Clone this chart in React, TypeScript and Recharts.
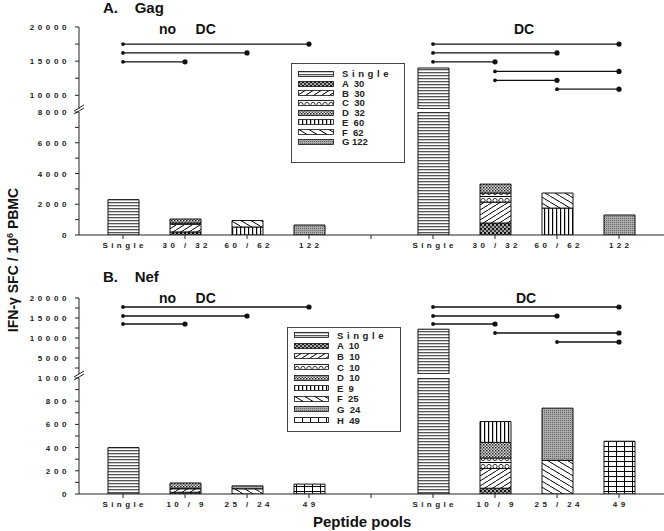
import React from 'react';
import { ComposedChart, Bar, XAxis, YAxis, ReferenceLine, ReferenceDot } from 'recharts';

document.body.style.margin = '0';

// category keys: no DC group, empty gap, DC group
const categories = ['n0', 'n1', 'n2', 'n3', 'gap', 'd0', 'd1', 'd2', 'd3'];
const gagTickLabels = ['Single', '30 / 32', '60 / 62', '122', '', 'Single', '30 / 32', '60 / 62', '122'];
const nefTickLabels = ['Single', '10 / 9', '25 / 24', '49', '', 'Single', '10 / 9', '25 / 24', '49'];

// Gag, IFN-g SFC / 10^6 PBMC
const gagSingle = [2300, null, null, null, null, 14000, null, null, null];
const gagA = [null, 200, null, null, null, null, 780, null, null];
const gagB = [null, 500, null, null, null, null, 1360, null, null];
const gagC = [null, 80, null, null, null, null, 590, null, null];
const gagD = [null, 260, null, null, null, null, 580, null, null];
const gagE = [null, null, 520, null, null, null, null, 1750, null];
const gagF = [null, null, 420, null, null, null, null, 980, null];
const gagG = [null, null, null, 650, null, null, null, null, 1300];

// Nef
const nefSingle = [400, null, null, null, null, 12200, null, null, null];
const nefA = [null, 15, null, null, null, null, 50, null, null];
const nefB = [null, 30, null, null, null, null, 170, null, null];
const nefC = [null, 5, null, null, null, null, 90, null, null];
const nefD = [null, 45, null, null, null, null, 135, null, null];
const nefE = [null, null, null, null, null, null, 180, null, null];
const nefF = [null, null, 45, null, null, null, null, 290, null];
const nefG = [null, null, 25, null, null, null, null, 450, null];
const nefH = [null, null, null, 85, null, null, null, null, 455];

// axis segments
const gagUpperDomain = [8000, 20000];
const gagUpperTicks = [10000, 12500, 15000, 17500, 20000];
const gagUpperLabels = [10000, 15000, 20000];
const gagLowerDomain = [0, 8000];
const gagLowerTicks = [0, 1000, 2000, 3000, 4000, 5000, 6000, 7000, 8000];
const gagLowerLabels = [0, 2000, 4000, 6000, 8000];

const nefUpperDomain = [1000, 20000];
const nefUpperTicks = [2500, 5000, 7500, 10000, 12500, 15000, 17500, 20000];
const nefUpperLabels = [5000, 10000, 15000, 20000];
const nefLowerDomain = [0, 1000];
const nefLowerTicks = [0, 100, 200, 300, 400, 500, 600, 700, 800, 900, 1000];
const nefLowerLabels = [0, 200, 400, 600, 800, 1000];

// significance brackets
const gagBrackets = [
  { from: 'n0', to: 'n3', y: 17500 },
  { from: 'n0', to: 'n2', y: 16200 },
  { from: 'n0', to: 'n1', y: 14900 },
  { from: 'd0', to: 'd3', y: 17500 },
  { from: 'd0', to: 'd2', y: 16200 },
  { from: 'd0', to: 'd1', y: 14900 },
  { from: 'd1', to: 'd3', y: 13500 },
  { from: 'd1', to: 'd2', y: 12200 },
  { from: 'd2', to: 'd3', y: 10900 },
];
const nefBrackets = [
  { from: 'n0', to: 'n3', y: 17750 },
  { from: 'n0', to: 'n2', y: 15500 },
  { from: 'n0', to: 'n1', y: 13500 },
  { from: 'd0', to: 'd3', y: 17750 },
  { from: 'd0', to: 'd2', y: 15500 },
  { from: 'd0', to: 'd1', y: 13500 },
  { from: 'd1', to: 'd3', y: 11250 },
  { from: 'd2', to: 'd3', y: 9000 },
];

const gagSeries = [
  { key: 'A', label: 'A  30', pattern: 'pA', values: gagA },
  { key: 'B', label: 'B  30', pattern: 'pB', values: gagB },
  { key: 'C', label: 'C  30', pattern: 'pC', values: gagC },
  { key: 'D', label: 'D  32', pattern: 'pD', values: gagD },
  { key: 'E', label: 'E  60', pattern: 'pE', values: gagE },
  { key: 'F', label: 'F  62', pattern: 'pF', values: gagF },
  { key: 'G', label: 'G 122', pattern: 'pG', values: gagG },
];
const nefSeries = [
  { key: 'A', label: 'A  10', pattern: 'pA', values: nefA },
  { key: 'B', label: 'B  10', pattern: 'pB', values: nefB },
  { key: 'C', label: 'C  10', pattern: 'pC', values: nefC },
  { key: 'D', label: 'D  10', pattern: 'pD', values: nefD },
  { key: 'E', label: 'E  9', pattern: 'pE', values: nefE },
  { key: 'F', label: 'F  25', pattern: 'pF', values: nefF },
  { key: 'G', label: 'G  24', pattern: 'pG', values: nefG },
  { key: 'H', label: 'H  49', pattern: 'pH', values: nefH },
];

const FONT = 'Arial, "Liberation Sans", sans-serif';
const TICK_SIZE = 4;
const Y_TICK_MARGIN = 5;

const YTick = (props: any) => {
  const { x, y, payload, labels, brk } = props;
  const v = payload.value;
  const axisX = x + TICK_SIZE + Y_TICK_MARGIN;
  return (
    <g>
      {labels.includes(v) && (
        <text x={x} y={y} dy={3} textAnchor="end" fontSize={8} fontWeight="bold" letterSpacing={3.6} fill="#222" fontFamily={FONT}>
          {v}
        </text>
      )}
      {brk === v && (
        <g stroke="#222" strokeWidth={1}>
          <line x1={axisX - 5} y1={y - 1} x2={axisX + 5} y2={y - 7} />
          <line x1={axisX - 5} y1={y + 2} x2={axisX + 5} y2={y - 4} />
        </g>
      )}
    </g>
  );
};

const XTick = (props: any) => {
  const { x, y, payload, labels } = props;
  const label = labels[categories.indexOf(payload.value)];
  return (
    <text x={x} y={y} dy="0.71em" dx={1.7} textAnchor="middle" fontSize={8} fontWeight="bold" letterSpacing={3.4} fill="#222" fontFamily={FONT}>
      {label}
    </text>
  );
};

const Patterns = () => (
  <svg width={0} height={0} style={{ position: 'absolute' }}>
    <defs>
      <pattern id="pSingle" patternUnits="userSpaceOnUse" width={6} height={3}>
        <rect width={6} height={3} fill="#fff" />
        <rect width={6} height={1.3} fill="#555" />
      </pattern>
      <pattern id="pA" patternUnits="userSpaceOnUse" width={4} height={4}>
        <rect width={4} height={4} fill="#aaa" />
        <rect width={2} height={2} fill="#111" />
        <rect x={2} y={2} width={2} height={2} fill="#333" />
      </pattern>
      <pattern id="pB" patternUnits="userSpaceOnUse" width={8} height={5}>
        <rect width={8} height={5} fill="#fff" />
        <path d="M0,5 L8,0" stroke="#000" strokeWidth={1} />
      </pattern>
      <pattern id="pC" patternUnits="userSpaceOnUse" width={6} height={8}>
        <rect width={6} height={8} fill="#fff" />
        <line x1={0} y1={0.5} x2={6} y2={0.5} stroke="#000" strokeWidth={1} />
        <circle cx={3} cy={4.5} r={2.1} fill="none" stroke="#000" strokeWidth={0.8} />
      </pattern>
      <pattern id="pD" patternUnits="userSpaceOnUse" width={3} height={3}>
        <rect width={3} height={3} fill="#ddd" />
        <rect width={1.5} height={1.5} fill="#222" />
        <rect x={1.5} y={1.5} width={1.5} height={1.5} fill="#555" />
      </pattern>
      <pattern id="pE" patternUnits="userSpaceOnUse" width={4} height={4}>
        <rect width={4} height={4} fill="#fff" />
        <rect width={1.2} height={4} fill="#000" />
      </pattern>
      <pattern id="pF" patternUnits="userSpaceOnUse" width={10} height={6}>
        <rect width={10} height={6} fill="#fff" />
        <path d="M0,0 L10,6" stroke="#000" strokeWidth={1} />
      </pattern>
      <pattern id="pG" patternUnits="userSpaceOnUse" width={2} height={2}>
        <rect width={2} height={2} fill="#aaa" />
        <rect width={1} height={1} fill="#666" />
      </pattern>
      <pattern id="pH" patternUnits="userSpaceOnUse" width={8} height={5}>
        <rect width={8} height={5} fill="#fff" />
        <line x1={0} y1={0.5} x2={8} y2={0.5} stroke="#000" strokeWidth={1} />
        <line x1={0.5} y1={0} x2={0.5} y2={5} stroke="#000" strokeWidth={1} />
      </pattern>
    </defs>
  </svg>
);

function buildLower(single: (number | null)[], series: any[], max: number) {
  return categories.map((key, i) => {
    const row: any = { key, single: single[i] == null ? null : Math.min(single[i] as number, max) };
    series.forEach((s) => (row[s.key] = s.values[i]));
    return row;
  });
}

function buildUpper(single: (number | null)[], min: number) {
  return categories.map((key, i) => {
    const v = single[i];
    return { key, single: v != null && v > min ? [min, v] : null };
  });
}

const yAxisCommon = {
  width: 79,
  tickSize: TICK_SIZE,
  tickMargin: Y_TICK_MARGIN,
  interval: 0 as const,
  axisLine: { stroke: '#222' },
  tickLine: { stroke: '#222' },
  allowDataOverflow: true,
};

function UpperChart({ rows, top, height, marginTop, domain, ticks, labels, brackets }: any) {
  return (
    <div style={{ position: 'absolute', left: 0, top }}>
      <ComposedChart width={664} height={height} data={rows} margin={{ top: marginTop, right: 0, bottom: 6, left: 0 }} barSize={31}>
        <XAxis dataKey="key" hide padding={{ left: 13, right: 14 }} />
        <YAxis {...yAxisCommon} type="number" domain={domain} ticks={ticks} tick={(p: any) => <YTick {...p} labels={labels} />} />
        <Bar dataKey="single" fill="url(#pSingle)" stroke="#111" strokeWidth={1} isAnimationActive={false} />
        {brackets.map((b: any, i: number) => (
          <ReferenceLine key={'l' + i} segment={[{ x: b.from, y: b.y }, { x: b.to, y: b.y }]} stroke="#111" strokeWidth={1.3} />
        ))}
        {brackets.map((b: any, i: number) => (
          <ReferenceDot key={'a' + i} x={b.from} y={b.y} r={1.9} fill="#111" stroke="none" />
        ))}
        {brackets.map((b: any, i: number) => (
          <ReferenceDot key={'b' + i} x={b.to} y={b.y} r={2.6} fill="#111" stroke="none" />
        ))}
      </ComposedChart>
    </div>
  );
}

function LowerChart({ rows, top, plotHeight, domain, ticks, labels, tickLabels, series }: any) {
  return (
    <div style={{ position: 'absolute', left: 0, top }}>
      <ComposedChart width={664} height={12 + plotHeight + 30} data={rows} margin={{ top: 12, right: 0, bottom: 0, left: 0 }} barSize={31}>
        <XAxis
          dataKey="key"
          padding={{ left: 13, right: 14 }}
          interval={0}
          height={30}
          tickSize={TICK_SIZE}
          tickMargin={3}
          axisLine={{ stroke: '#222' }}
          tickLine={{ stroke: '#222' }}
          tick={(p: any) => <XTick {...p} labels={tickLabels} />}
        />
        <YAxis {...yAxisCommon} type="number" domain={domain} ticks={ticks} tick={(p: any) => <YTick {...p} labels={labels} brk={domain[1]} />} />
        <Bar dataKey="single" stackId="s" fill="url(#pSingle)" stroke="#111" strokeWidth={1} isAnimationActive={false} />
        {series.map((s: any) => (
          <Bar key={s.key} dataKey={s.key} stackId="s" fill={`url(#${s.pattern})`} stroke="#111" strokeWidth={1} isAnimationActive={false} />
        ))}
      </ComposedChart>
    </div>
  );
}

function PatternLegend({ items, left, top, width, height, padTop, rowH, swatchW }: any) {
  return (
    <div
      style={{
        position: 'absolute', left, top, width, height, boxSizing: 'border-box',
        border: '1.5px solid #444', background: '#fff', fontFamily: FONT, fontWeight: 'bold', fontSize: 9.5, color: '#222',
      }}
    >
      {items.map((it: any, i: number) => (
        <div key={it.label} style={{ position: 'absolute', left: 6, top: padTop + i * rowH, height: rowH, display: 'flex', alignItems: 'center' }}>
          <svg width={swatchW} height={6}>
            <rect x={0.5} y={0.5} width={swatchW - 1} height={5} fill={`url(#${it.pattern})`} stroke="#111" strokeWidth={0.8} />
          </svg>
          <span style={{ marginLeft: 8, whiteSpace: 'pre', letterSpacing: it.label === 'Single' ? 3.6 : 0 }}>{it.label}</span>
        </div>
      ))}
    </div>
  );
}

const title = (text: string, left: number, top: number, size: number) => (
  <div style={{ position: 'absolute', left, top, fontFamily: FONT, fontWeight: 'bold', fontSize: size, lineHeight: 1, whiteSpace: 'pre', color: '#111' }}>
    {text}
  </div>
);

export default function App() {
  const gagLegendItems = [{ label: 'Single', pattern: 'pSingle' }, ...gagSeries];
  const nefLegendItems = [{ label: 'Single', pattern: 'pSingle' }, ...nefSeries];
  return (
    <div style={{ position: 'relative', width: 664, height: 531, background: '#fff', overflow: 'hidden' }}>
      <Patterns />

      <UpperChart rows={buildUpper(gagSingle, gagUpperDomain[0])} top={0} height={115} marginTop={27}
        domain={gagUpperDomain} ticks={gagUpperTicks} labels={gagUpperLabels} brackets={gagBrackets} />
      <LowerChart rows={buildLower(gagSingle, gagSeries, gagLowerDomain[1])} top={100} plotHeight={123}
        domain={gagLowerDomain} ticks={gagLowerTicks} labels={gagLowerLabels} tickLabels={gagTickLabels} series={gagSeries} />

      <UpperChart rows={buildUpper(nefSingle, nefUpperDomain[0])} top={280} height={100} marginTop={18}
        domain={nefUpperDomain} ticks={nefUpperTicks} labels={nefUpperLabels} brackets={nefBrackets} />
      <LowerChart rows={buildLower(nefSingle, nefSeries, nefLowerDomain[1])} top={366} plotHeight={116}
        domain={nefLowerDomain} ticks={nefLowerTicks} labels={nefLowerLabels} tickLabels={nefTickLabels} series={nefSeries} />

      <PatternLegend items={gagLegendItems} left={291} top={63} width={114} height={100} padTop={5} rowH={9.7} swatchW={36} />
      <PatternLegend items={nefLegendItems} left={287} top={327} width={114} height={105} padTop={2} rowH={10.6} swatchW={35} />

      {title('A.    Gag', 103, 0, 15)}
      {title('no     DC', 159, 22, 14)}
      {title('DC', 514, 22, 14)}
      {title('B.    Nef', 103, 269, 15)}
      {title('no     DC', 159, 291, 14)}
      {title('DC', 516, 291, 14)}
      {title('Peptide pools', 313, 514, 15)}

      <svg width={40} height={531} style={{ position: 'absolute', left: 0, top: 0 }}>
        <text transform="translate(18,260) rotate(-90)" textAnchor="middle" fontFamily={FONT} fontWeight="bold" fontSize={14} fill="#111">
          IFN-γ SFC / 10<tspan dy={-5} fontSize={9}>6</tspan>
          <tspan dy={5}> PBMC</tspan>
        </text>
      </svg>
    </div>
  );
}
